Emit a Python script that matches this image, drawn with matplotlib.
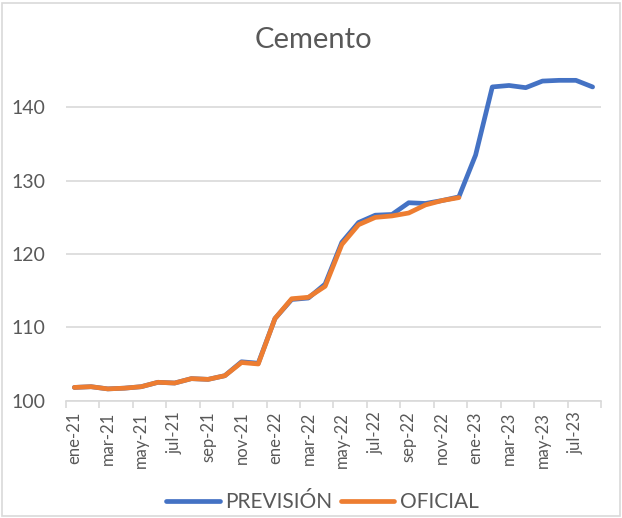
import matplotlib.pyplot as plt
from matplotlib.patches import Rectangle

plt.rcParams['font.family'] = ['Lato', 'DejaVu Sans']

# Monthly index values, ene-21 .. ago-23
months = ['ene-21', 'feb-21', 'mar-21', 'abr-21', 'may-21', 'jun-21', 'jul-21', 'ago-21',
          'sep-21', 'oct-21', 'nov-21', 'dic-21', 'ene-22', 'feb-22', 'mar-22', 'abr-22',
          'may-22', 'jun-22', 'jul-22', 'ago-22', 'sep-22', 'oct-22', 'nov-22', 'dic-22',
          'ene-23', 'feb-23', 'mar-23', 'abr-23', 'may-23', 'jun-23', 'jul-23', 'ago-23']
prevision = [101.8, 101.9, 101.6, 101.7, 101.9, 102.5, 102.4, 103.0, 102.9, 103.4, 105.3, 105.1,
             111.2, 113.8, 114.0, 115.9, 121.6, 124.3, 125.3, 125.4, 127.0, 126.9, 127.3, 127.8,
             133.5, 142.8, 143.0, 142.7, 143.6, 143.7, 143.7, 142.8]
oficial = [101.8, 101.9, 101.6, 101.7, 101.9, 102.5, 102.4, 103.0, 102.9, 103.4, 105.2, 105.0,
           111.2, 113.9, 114.1, 115.6, 121.3, 124.0, 125.0, 125.2, 125.6, 126.7, 127.3, 127.7]
tick_labels = months[::2]

blue = '#4472C4'
orange = '#ED7D31'
grey = '#595959'
grid = '#D9D9D9'

fig = plt.figure(figsize=(6.22, 5.18), dpi=100)
fig.patches.append(Rectangle((0.004, 0.004), 0.992, 0.99, transform=fig.transFigure,
                             fill=False, edgecolor=grid, linewidth=1.2))
ax = fig.add_axes([0.1061, 0.2266, 0.8601, 0.6367])

x = list(range(len(months)))
ax.plot(x, prevision, color=blue, linewidth=3.4, solid_capstyle='round', label='PREVISIÓN', zorder=3)
ax.plot(x[:len(oficial)], oficial, color=orange, linewidth=3.4, solid_capstyle='round',
        label='OFICIAL', zorder=4)

ax.set_xlim(-0.5, len(months) - 0.5)
ax.set_ylim(100, 145)
ax.set_yticks([100, 110, 120, 130, 140])
ax.yaxis.grid(True, color=grid, linewidth=1.2)
ax.set_axisbelow(True)

# category boundary ticks every two months, labels centred on the categories
ax.set_xticks([i - 0.5 for i in range(0, len(months) + 1, 2)])
ax.set_xticklabels([])
ax.set_xticks(x[::2], minor=True)
ax.set_xticklabels(tick_labels, minor=True, rotation=90, fontsize=12, color=grey)
ax.tick_params(axis='x', which='major', length=5, color=grid, width=1.2)
ax.tick_params(axis='x', which='minor', length=0, pad=8)
ax.tick_params(axis='y', length=0, labelsize=14, labelcolor=grey, pad=15)

for s in ['top', 'right', 'left']:
    ax.spines[s].set_visible(False)
ax.spines['bottom'].set_color(grid)
ax.spines['bottom'].set_linewidth(1.2)

fig.text(0.504, 0.922, 'Cemento', ha='center', va='center', fontsize=21, color=grey)

fig.legend(loc='center', bbox_to_anchor=(0.5185, 0.03), ncol=2, frameon=False,
           fontsize=15, labelcolor=grey, handlelength=2.55, handletextpad=0.25,
           columnspacing=0.45)

fig.savefig('out.png', dpi=100)
